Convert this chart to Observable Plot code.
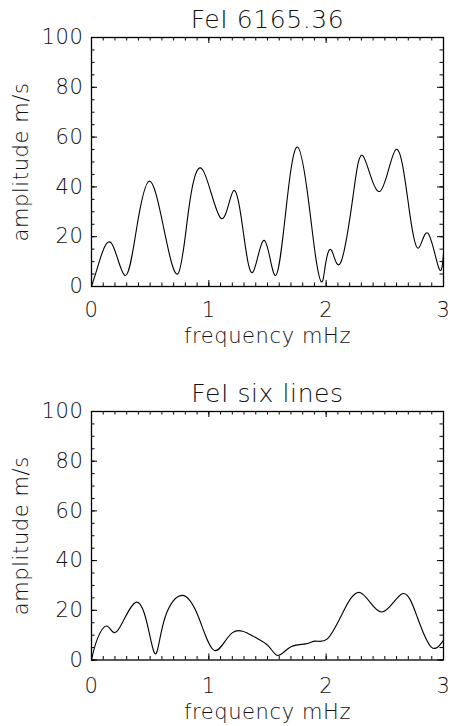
<!DOCTYPE html>
<html>
<head>
<meta charset="utf-8">
<script src="https://cdn.jsdelivr.net/npm/d3@7"></script>
<script src="https://cdn.jsdelivr.net/npm/@observablehq/plot@0.6"></script>
<style>
  html, body { margin: 0; padding: 0; background: #fff; }
  #chart { width: 450px; }
  #chart svg { display: block; }
  #chart svg text { font-weight: 200; letter-spacing: 0.6px; }
</style>
</head>
<body>
<div id="chart"></div>
<script>
// Panel titles and axis labels
const titles = ["FeI 6165.36", "FeI six lines"];
const xLabel = "frequency mHz";
const yLabel = "amplitude m/s";

// Tick values
const xMajorTicks = [0, 1, 2, 3];
const xMinorTicks = d3.range(0, 31).map(i => i / 10);
const yMajorTicks = [0, 20, 40, 60, 80, 100];
const yMinorTicks = d3.range(0, 21).map(i => i * 5);

// Panel 1: FeI 6165.36 (frequency mHz, amplitude m/s)
const freq1 = [0, 0.06, 0.168, 0.287, 0.386, 0.494, 0.614, 0.736, 0.827, 0.946, 1.103, 1.211, 1.296, 1.376, 1.475,
               1.569, 1.66, 1.756, 1.853, 1.91, 1.961, 1.995, 2.046, 2.123, 2.228, 2.316, 2.458, 2.598, 2.705, 2.785, 2.867, 2.961, 3.0];
const amp1  = [0, 9, 17.5, 4.4, 23.8, 42.3, 23.8, 5.1, 30.5, 47, 27.4, 38.5, 21.2, 5.8, 18.5,
               4.4, 31.9, 56, 33.2, 12, 1.8, 9.1, 14.5, 9.5, 35.9, 52.3, 38.2, 55.1, 31.8, 15.4, 21.4, 7.3, 13.1];

// Panel 2: FeI six lines
const freq2 = [0, 0.05, 0.136, 0.224, 0.386, 0.5, 0.557, 0.628, 0.77, 0.912, 1.049, 1.202, 1.381, 1.509,
               1.59, 1.696, 1.824, 1.91, 2.01, 2.137, 2.293, 2.472, 2.649, 2.776, 2.896, 3.0];
const amp2  = [0, 8.5, 13.6, 11.9, 23.3, 9.2, 3.2, 17.3, 26, 17.3, 3.8, 11, 9.5, 5.6,
               1.8, 5.2, 6.5, 7.6, 8.5, 18.6, 27.1, 19.3, 26.7, 17.3, 5.2, 7.9];

const W = 450, H = 363, ML = 91, MR = 7;

function panel(title, freq, amp, mt, mb, labPad, titlePad) {
  const data = freq.map((f, i) => ({f, a: amp[i]}));
  const fh = H - mt - mb, fw = W - ML - MR;
  const major = 6, minor = 3.5;
  return Plot.plot({
    width: W, height: H,
    marginLeft: ML, marginRight: MR, marginTop: mt, marginBottom: mb,
    style: {fontFamily: "'DejaVu Sans', sans-serif", fontSize: "21px", color: "#111", background: "#fff"},
    x: {domain: [0, 3], axis: null},
    y: {domain: [0, 100], axis: null},
    marks: [
      Plot.line(data, {x: "f", y: "a", curve: "natural", stroke: "#000", strokeWidth: 1.1, clip: true}),
      // inward ticks on all four sides
      Plot.tickX(xMinorTicks, {x: d => d, insetTop: fh - minor, stroke: "#000"}),
      Plot.tickX(xMinorTicks, {x: d => d, insetBottom: fh - minor, stroke: "#000"}),
      Plot.tickX(xMajorTicks, {x: d => d, insetTop: fh - major, stroke: "#000"}),
      Plot.tickX(xMajorTicks, {x: d => d, insetBottom: fh - major, stroke: "#000"}),
      Plot.tickY(yMinorTicks, {y: d => d, insetRight: fw - minor, stroke: "#000"}),
      Plot.tickY(yMinorTicks, {y: d => d, insetLeft: fw - minor, stroke: "#000"}),
      Plot.tickY(yMajorTicks, {y: d => d, insetRight: fw - major, stroke: "#000"}),
      Plot.tickY(yMajorTicks, {y: d => d, insetLeft: fw - major, stroke: "#000"}),
      Plot.frame({stroke: "#000", strokeWidth: 1.3}),
      Plot.axisX(xMajorTicks, {anchor: "bottom", tickSize: 0, tickPadding: labPad, tickFormat: d3.format("d"), label: null, fill: "#111"}),
      Plot.axisY(yMajorTicks, {anchor: "left", tickSize: 0, tickPadding: 8, tickFormat: d3.format("d"), label: null, fill: "#111"}),
      Plot.text([xLabel], {frameAnchor: "bottom", text: d => d, textAnchor: "middle", lineAnchor: "top", dy: labPad + 26, fill: "#111"}),
      Plot.text([yLabel], {frameAnchor: "left", text: d => d, textAnchor: "middle", lineAnchor: "middle", rotate: -90, dx: -70, fill: "#111"}),
      Plot.text([title], {frameAnchor: "top", text: d => d, textAnchor: "middle", lineAnchor: "bottom", dy: -titlePad, fontSize: 25, fill: "#111"})
    ]
  });
}

const el = document.getElementById("chart");
el.appendChild(panel(titles[0], freq1, amp1, 37, 77, 16, 10));
el.appendChild(panel(titles[1], freq2, amp2, 48, 66.5, 18, 10));
</script>
</body>
</html>
